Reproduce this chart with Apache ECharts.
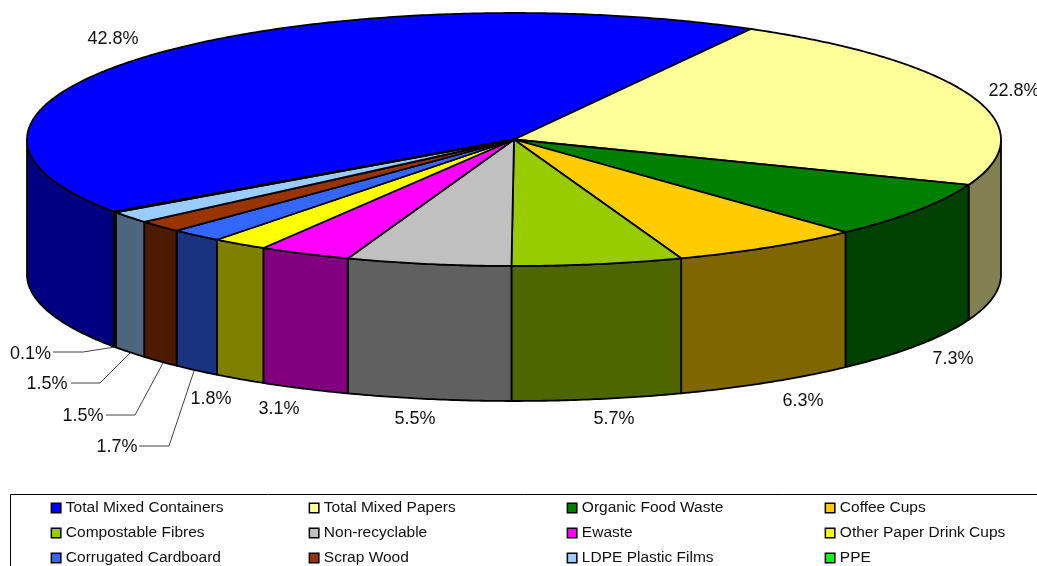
<!DOCTYPE html>
<html>
<head>
<meta charset="utf-8">
<style>html,body{margin:0;padding:0;background:#fff;overflow:hidden}#c{width:1037px;height:566px}</style>
<script src="https://cdn.jsdelivr.net/npm/echarts@6/dist/echarts.min.js"></script>
</head>
<body>
<div id="c"></div>
<script>
const categories = ['Total Mixed Containers','Total Mixed Papers','Organic Food Waste','Coffee Cups','Compostable Fibres','Non-recyclable','Ewaste','Other Paper Drink Cups','Corrugated Cardboard','Scrap Wood','LDPE Plastic Films','PPE'];
// unrounded estimates: consistent with the printed one-decimal labels and the slice sizes in the picture
const values = [42.75,22.75,7.25,6.34,5.66,5.46,3.06,1.84,1.74,1.54,1.5,0.11];
const topColors = ['#0000FF','#FFFF99','#008000','#FFCC00','#99CC00','#C0C0C0','#FF00FF','#FFFF00','#3366FF','#993300','#99CCFF','#00FF00'];
const sideColors = ['#000080','#808050','#004000','#806600','#4D6600','#606060','#800080','#808000','#1A3380','#4D1A00','#4D6680','#008000'];

// layout of the pseudo-3D pie
const PIE = {cx:514, cy:139.5, rx:487, ry:126.5, depth:135, start:235.2};
const labelPos = [[113,39],[1014,91],[953,359],[803,401],[614,419],[415,419],[279,409],[211,399],[117,447],[83,416],[47,384],[30.5,354]];
const leaders = {
  8:[[139,446],[169,446],[194,371]],
  9:[[106,415],[135,415],[163,363]],
  10:[[71,383],[100,383],[130,353]],
  11:[[53,352],[83,352],[115,347]]
};
const total = values.reduce((a,b)=>a+b,0);
function pt(deg, dy){
  const r = deg*Math.PI/180;
  return [PIE.cx+PIE.rx*Math.sin(r), PIE.cy-PIE.ry*Math.cos(r)+(dy||0)];
}
function arc(a0,a1,dy){
  const out=[], n=Math.max(2,Math.ceil(Math.abs(a1-a0)/0.5));
  for(let i=0;i<=n;i++) out.push(pt(a0+(a1-a0)*i/n,dy));
  return out;
}
function wedge(i){
  let s=PIE.start;
  for(let k=0;k<i;k++) s+=values[k]/total*360;
  return [s,s+values[i]/total*360];
}
function renderSlice(i){
  return function(){
    const [a0,a1]=wedge(i), children=[];
    const line={stroke:'#000',lineWidth:1.8,lineJoin:'round'};
    [[90,270],[450,630]].forEach(([f0,f1])=>{
      const b0=Math.max(a0,f0), b1=Math.min(a1,f1);
      if(b1>b0){
        children.push({type:'polygon',shape:{points:arc(b0,b1,0).concat(arc(b1,b0,PIE.depth))},
          style:Object.assign({fill:sideColors[i]},line)});
      }
    });
    children.push({type:'polygon',shape:{points:[[PIE.cx,PIE.cy]].concat(arc(a0,a1,0))},
      style:Object.assign({fill:topColors[i]},line)});
    if(leaders[i]) children.push({type:'polyline',shape:{points:leaders[i]},style:{stroke:'#444',lineWidth:1,fill:null}});
    children.push({type:'text',style:{text:values[i].toFixed(1)+'%',x:labelPos[i][0],y:labelPos[i][1],
      fill:'#111',font:'18px "Liberation Sans", Arial, sans-serif',align:'center',verticalAlign:'middle'}});
    return {type:'group',children};
  };
}
const series = categories.map((name,i)=>({
  type:'custom',name,coordinateSystem:'none',
  data:[[values[i]]],
  itemStyle:{color:topColors[i]},
  silent:true,animation:false,
  renderItem:renderSlice(i)
}));
// one legend per entry, laid out in the reference's 4 x 3 grid
const legendCols=[50.6,308.6,566.6,824.6];
const legendRows=[499.5,524.5,549.5];
const legend=categories.map((name,i)=>({
  orient:'horizontal',left:legendCols[i%4],top:legendRows[Math.floor(i/4)],padding:0,
  itemWidth:9.5,itemHeight:9.5,selectedMode:false,icon:'rect',
  textStyle:{fontSize:15.5,fontFamily:'"Liberation Sans", Arial, sans-serif',color:'#111',lineHeight:17},
  data:[{name,icon:'rect',itemStyle:{color:topColors[i],borderColor:'#000',borderWidth:1.5}}]
}));
const chart=echarts.init(document.getElementById('c'),null,{renderer:'canvas'});
chart.setOption({
  animation:false,backgroundColor:'#fff',
  graphic:[{type:'rect',shape:{x:10.5,y:494.5,width:1100,height:200},style:{fill:null,stroke:'#000',lineWidth:1},silent:true}],
  legend,series
});
</script>
</body>
</html>
